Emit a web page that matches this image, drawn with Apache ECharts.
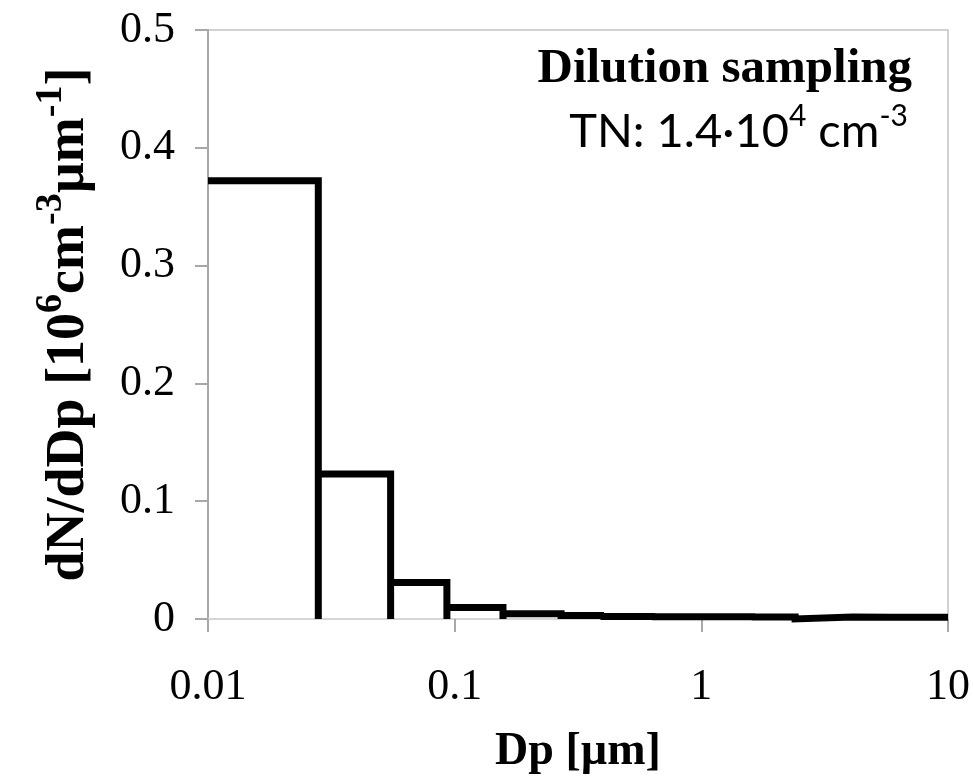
<!DOCTYPE html>
<html>
<head>
<meta charset="utf-8">
<script src="https://cdn.jsdelivr.net/npm/echarts@6/dist/echarts.min.js"></script>
<style>html,body{margin:0;padding:0;background:#fff;overflow:hidden}#c{width:973px;height:780px}</style>
</head>
<body>
<div id="c"></div>
<script>
// Bin edges (µm) and dN/dDp values (10^6 cm^-3 µm^-1)
var binEdges = [0.01, 0.028, 0.055, 0.093, 0.157, 0.27, 0.39, 0.63, 0.96, 1.6, 2.4, 4.1, 5.9, 10];
var binValues = [0.372, 0.123, 0.031, 0.0098, 0.0045, 0.003, 0.0022, 0.002, 0.0019, 0.0018, 0.0016, 0.0015, 0.0014];
var yTicks = [0, 0.1, 0.2, 0.3, 0.4, 0.5];
var xTicks = [0.01, 0.1, 1, 10];

// Outline of histogram: top of each bin, then its right edge down to zero
var path = [];
for (var i = 0; i < binValues.length; i++) {
  path.push([binEdges[i], binValues[i]]);
  path.push([binEdges[i + 1], binValues[i]]);
  if (i < binValues.length - 1) path.push([binEdges[i + 1], 0]);
}

var serif = '"Liberation Serif","Times New Roman",serif';
var chart = echarts.init(document.getElementById('c'), null, {renderer: 'canvas', width: 973, height: 780});
chart.setOption({
  animation: false,
  backgroundColor: '#fff',
  grid: {left: 208, top: 30, width: 742, height: 600, show: true, borderColor: '#c4c4c4', borderWidth: 1.5, backgroundColor: 'transparent'},
  title: [
    {text: 'Dilution sampling', right: 56, top: 40,
     textStyle: {fontFamily: serif, fontWeight: 'bold', fontSize: 49, color: '#000'}},
    {text: '{n|TN: 1.4·10}{s|4}{n| cm}{s|-3}', right: 60, top: 96,
     textStyle: {rich: {
       n: {fontFamily: 'Lato', fontWeight: 'normal', fontSize: 47, color: '#000', lineHeight: 54, verticalAlign: 'bottom'},
       s: {fontFamily: 'Lato', fontWeight: 'normal', fontSize: 30, color: '#000', lineHeight: 54, verticalAlign: 'top'}
     }}}
  ],
  xAxis: {
    type: 'log', logBase: 10, min: xTicks[0], max: xTicks[xTicks.length - 1],
    name: 'Dp [µm]', nameLocation: 'middle', nameGap: 110,
    nameTextStyle: {fontFamily: serif, fontWeight: 'bold', fontSize: 46, color: '#000'},
    axisLine: {show: true, lineStyle: {color: '#d6d6d6', width: 2}},
    axisTick: {show: true, length: 13, lineStyle: {color: '#a8a8a8', width: 2}},
    axisLabel: {fontFamily: serif, fontSize: 44, color: '#000', margin: 46,
      formatter: function (v) { return String(+v.toPrecision(3)); }},
    splitLine: {show: false}, minorTick: {show: false}
  },
  yAxis: {
    type: 'value', min: yTicks[0], max: yTicks[yTicks.length - 1], interval: 0.1,
    name: '{b|dN/dDp [10}{s|6}{b|cm}{s|-3}{b|µm}{s|-1}{b|]}', nameLocation: 'middle', nameGap: 112,
    nameTextStyle: {rich: {
      b: {fontFamily: serif, fontWeight: 'bold', fontSize: 54, color: '#000', lineHeight: 64, verticalAlign: 'bottom'},
      s: {fontFamily: serif, fontWeight: 'bold', fontSize: 38, color: '#000', lineHeight: 64, verticalAlign: 'top'}
    }},
    axisLine: {show: true, lineStyle: {color: '#a8a8a8', width: 2}},
    axisTick: {show: true, length: 13, lineStyle: {color: '#a8a8a8', width: 2}},
    axisLabel: {fontFamily: serif, fontSize: 44, color: '#000', margin: 33,
      formatter: function (v) { return String(+v.toFixed(2)); }},
    splitLine: {show: false}
  },
  series: [{
    type: 'line', data: path, showSymbol: false, clip: false, z: 5,
    lineStyle: {color: '#000', width: 7, cap: 'butt', join: 'miter'}
  }]
});
</script>
</body>
</html>
